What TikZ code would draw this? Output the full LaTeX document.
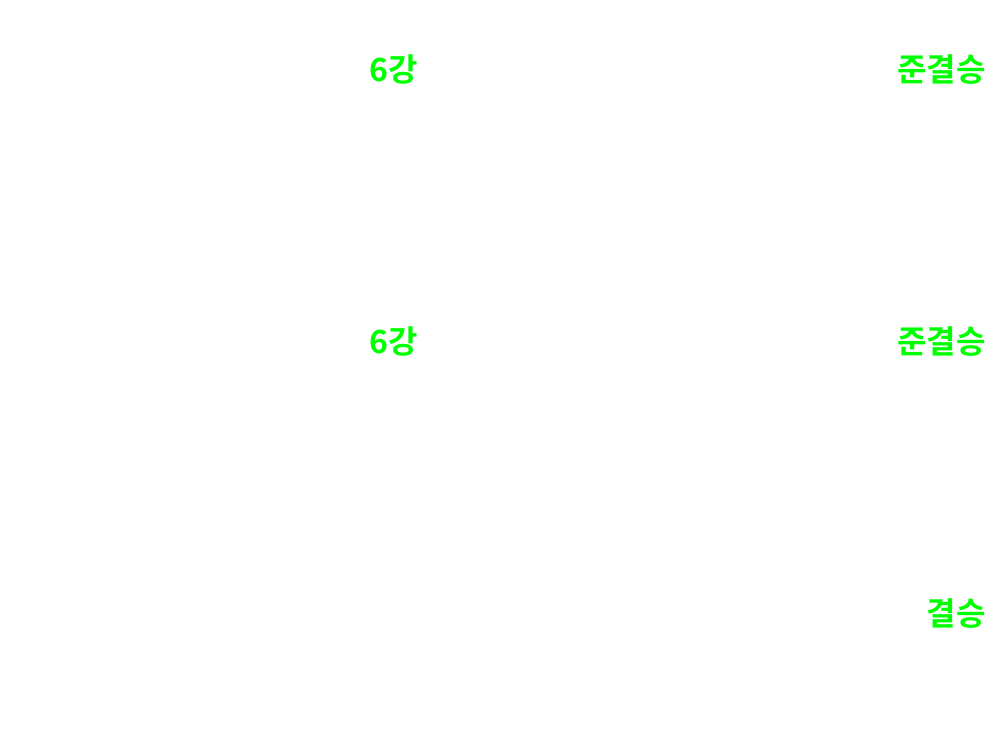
\documentclass[tikz,border=0pt]{standalone}
\usepackage{fontspec}
\newfontfamily\kr{Noto Sans CJK KR Bold}
\definecolor{lbl}{HTML}{00FF00}
\begin{document}
\begin{tikzpicture}[x=1pt,y=1pt,
  roundlbl/.style={anchor=base east,inner sep=0pt,text=lbl,font=\kr\fontsize{32}{32}\selectfont}]
\useasboundingbox[fill=white] (0,0) rectangle (986,733);
\node[roundlbl] (r6a) at (418,733-82) {6강};
\node[roundlbl] (sfa) at (986,733-82) {준결승};
\node[roundlbl] (r6b) at (418,733-354) {6강};
\node[roundlbl] (sfb) at (986,733-354) {준결승};
\node[roundlbl] (fin) at (986,733-626) {결승};
\end{tikzpicture}
\end{document}
